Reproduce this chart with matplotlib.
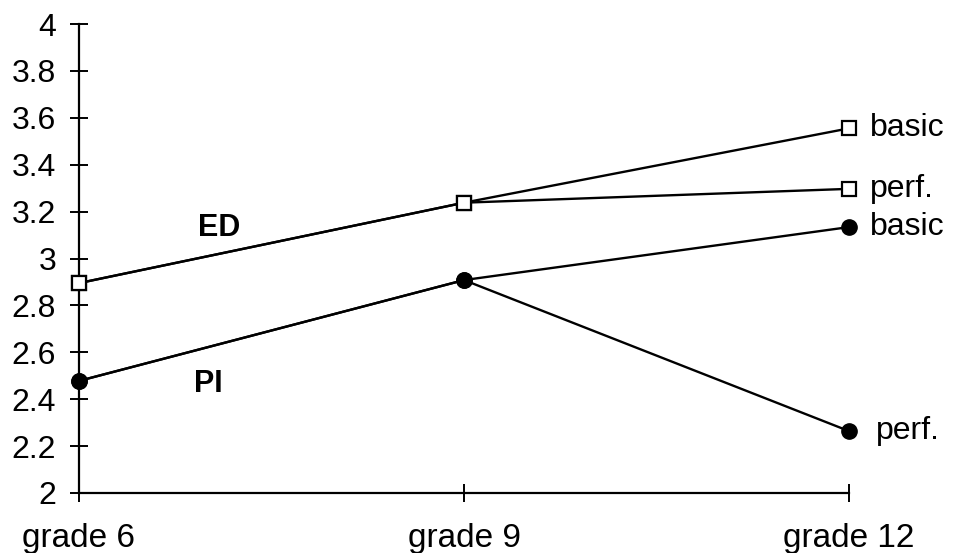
import matplotlib
matplotlib.use("Agg")
import matplotlib.pyplot as plt

grades = ["grade 6", "grade 9", "grade 12"]
ed_basic = [2.895, 3.238, 3.555]
ed_perf = [2.895, 3.238, 3.297]
pi_basic = [2.478, 2.908, 3.134]
pi_perf = [2.478, 2.908, 2.264]
yticks = [2, 2.2, 2.4, 2.6, 2.8, 3, 3.2, 3.4, 3.6, 3.8, 4]
ytick_labels = ["2", "2.2", "2.4", "2.6", "2.8", "3", "3.2", "3.4", "3.6", "3.8", "4"]

plt.rcParams['font.family'] = ['Liberation Sans', 'DejaVu Sans']

fig = plt.figure(figsize=(9.59, 5.53), dpi=100)
ax = fig.add_axes([79/959, 1-493/553, (849-79)/959, (493-24)/553])
x = list(range(len(grades)))

lw = 1.7
for ys in (ed_basic, ed_perf):
    ax.plot(x, ys, color='black', lw=lw, marker='s', markersize=9.5,
            markerfacecolor='white', markeredgecolor='black', markeredgewidth=1.6,
            clip_on=False, zorder=3)
for ys in (pi_basic, pi_perf):
    ax.plot(x, ys, color='black', lw=lw, marker='o', markersize=11,
            markerfacecolor='black', markeredgecolor='black',
            clip_on=False, zorder=3)

ax.set_xlim(0, 2)
ax.set_ylim(2, 4)
ax.set_xticks(x)
ax.set_xticklabels(grades, fontsize=24)
ax.set_yticks(yticks)
ax.set_yticklabels(ytick_labels, fontsize=23)

for s in ('top', 'right'):
    ax.spines[s].set_visible(False)
for s in ('left', 'bottom'):
    ax.spines[s].set_linewidth(1.6)

ax.tick_params(axis='y', direction='inout', length=13, width=1.4, pad=10)
ax.tick_params(axis='x', direction='inout', length=13, width=1.4, pad=15)

ax.text(0.31, 3.13, "ED", fontsize=22, fontweight='bold', va='center', ha='left')
ax.text(0.30, 2.465, "PI", fontsize=22, fontweight='bold', va='center', ha='left')

labels_right = [("basic", ed_basic[-1]), ("perf.", ed_perf[-1]),
                ("basic", pi_basic[-1]), ("perf.", pi_perf[-1])]
for i, (lab, yv) in enumerate(labels_right):
    dx = 0.055 if i < 3 else 0.07
    ax.text(2 + dx, yv, lab, fontsize=23, va='center', ha='left', clip_on=False)

fig.savefig("out.png", dpi=100)
